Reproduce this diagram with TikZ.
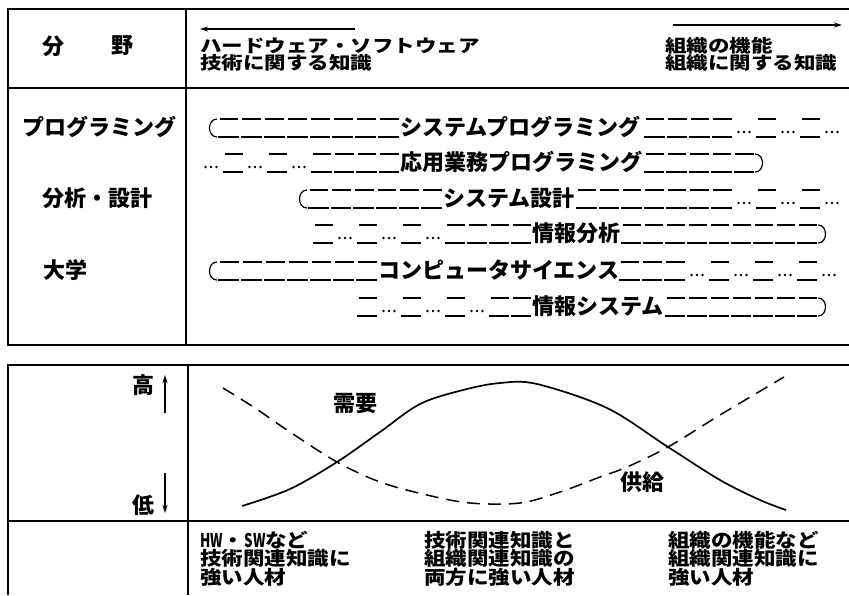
\documentclass[tikz,border=0pt]{standalone}
\usepackage{fontspec}
\newfontfamily\jp{Noto Sans CJK JP}
\usetikzlibrary{arrows.meta}
\newcommand\vsq[2]{\scalebox{1}[#1]{#2}}
\newcommand\bunits[4]{%
  \pgfmathsetmacro\uw{(#2-#1)/#3}%
  \foreach \k in {1,...,#3}{%
    \draw[bandln] ({#1+(\k-1)*\uw+2.5},{#4-9}) -- ({#1+\k*\uw-1.5},{#4-9});
    \draw[bandln] ({#1+(\k-1)*\uw+1},{#4+9}) -- ({#1+\k*\uw-1},{#4+9});
  }}
\newcommand\bdots[2]{%
  \foreach \d in {-5.5,0,5.5}{\fill ({#1+11+\d},{#2+4}) circle[radius=1.35pt];}}
\newcommand\bopen[2]{%
  \draw[bandln] ({#1+9},{#2-9}) .. controls ({#1-1},{#2-9}) and ({#1-1},{#2+9}) .. ({#1+9},{#2+9});}
\newcommand\bclose[2]{%
  \draw[bandln] ({#1},{#2-9}) .. controls ({#1+10},{#2-9}) and ({#1+10},{#2+9}) .. ({#1},{#2+9});}
\begin{document}
\begin{tikzpicture}[x=1pt,y=-1pt,
  tbl/.style={line width=2pt},
  jtxt/.style={font=\jp\bfseries\fontsize{22}{22}\selectfont, inner sep=0pt},
  htxt/.style={font=\jp\bfseries\fontsize{21.5}{21.5}\selectfont, inner sep=0pt, anchor=base west},
  bandln/.style={line width=1.2pt},
  arr/.style={line width=1.3pt, -{Stealth[length=8pt,width=5pt]}},
  demand/.style={line width=1.7pt},
  supply/.style={line width=1.5pt, dash pattern=on 13pt off 8pt},
]
\useasboundingbox (0,0) rectangle (849,595);
\fill[white] (0,0) rectangle (849,595);
% ---------- top table ----------
\draw[tbl] (849,9) -- (8,9) -- (8,345) -- (849,345);
\draw[tbl] (8,88) -- (849,88);
\draw[tbl] (186,9) -- (186,345);
% header
\node[jtxt] (bun) at (53,46) {分};
\node[jtxt] (ya) at (122,46) {野};
\coordinate (la1) at (355,29); \coordinate (la2) at (200,29);
\draw[arr] (la1) -- (la2);
\node[htxt] (h1) at (200,52) {\vsq{0.82}{ハードウェア・ソフトウェア}};
\node[htxt] (h2) at (200,69) {\vsq{0.82}{技術に関する知識}};
\coordinate (ra1) at (673,25); \coordinate (ra2) at (842,25);
\draw[arr] (ra1) -- (ra2);
\node[htxt] (h3) at (665,52) {\vsq{0.82}{組織の機能}};
\node[htxt] (h4) at (665,69) {\vsq{0.82}{組織に関する知識}};
% left labels
\node[jtxt, anchor=base west] (lp) at (22,135.5) {プログラミング};
\node[jtxt, anchor=base] (lb) at (97,206.5) {分析・設計};
\node[jtxt, anchor=base west] (ld) at (43,278) {大学};
% row 1
\bopen{208}{128}
\bunits{217}{400}{8}{128}
\node[jtxt, anchor=base west] (r1) at (400,135.5) {システムプログラミング};
\bunits{643}{733}{4}{128}
\bdots{733}{128}
\bunits{755}{777}{1}{128}
\bdots{777}{128}
\bunits{799}{821}{1}{128}
\bdots{821}{128}
% row 2
\bdots{200}{163}
\bunits{222}{244}{1}{163}
\bdots{244}{163}
\bunits{266}{288}{1}{163}
\bdots{288}{163}
\bunits{310}{400}{4}{163}
\node[jtxt, anchor=base west] (r2) at (400,170.5) {応用業務プログラミング};
\bunits{643}{755}{5}{163}
\bclose{755}{163}
% row 3
\bopen{298}{199}
\bunits{307}{443}{6}{199}
\node[jtxt, anchor=base west] (r3) at (443,206.5) {システム設計};
\bunits{575}{733}{7}{199}
\bdots{733}{199}
\bunits{755}{777}{1}{199}
\bdots{777}{199}
\bunits{799}{821}{1}{199}
\bdots{821}{199}
% row 4
\bunits{312}{334}{1}{234}
\bdots{334}{234}
\bunits{356}{378}{1}{234}
\bdots{378}{234}
\bunits{400}{422}{1}{234}
\bdots{422}{234}
\bunits{444}{532}{4}{234}
\node[jtxt, anchor=base west] (r4) at (532,241.5) {情報分析};
\bunits{620}{818}{9}{234}
\bclose{818}{234}
% row 5
\bopen{208}{271}
\bunits{217}{378}{7}{271}
\node[jtxt, anchor=base west] (r5) at (378,278.5) {コンピュータサイエンス};
\bunits{618}{686}{3}{271}
\bdots{686}{271}
\bunits{708}{730}{1}{271}
\bdots{730}{271}
\bunits{752}{774}{1}{271}
\bdots{774}{271}
\bunits{796}{818}{1}{271}
\bdots{818}{271}
% row 6
\bunits{356}{378}{1}{307}
\bdots{378}{307}
\bunits{400}{422}{1}{307}
\bdots{422}{307}
\bunits{444}{466}{1}{307}
\bdots{466}{307}
\bunits{488}{532}{2}{307}
\node[jtxt, anchor=base west] (r6) at (532,314.5) {情報システム};
\bunits{664}{818}{7}{307}
\bclose{818}{307}
% ---------- bottom table ----------
\draw[tbl] (849,365) -- (8,365) -- (8,595);
\draw[tbl] (188,365) -- (188,595);
\draw[tbl] (8,521) -- (849,521);
\node[jtxt] (hi) at (143,385) {高};
\coordinate (ua1) at (165,413); \coordinate (ua2) at (165,375);
\draw[arr] (ua1) -- (ua2);
\node[jtxt] (lo) at (143,505) {低};
\coordinate (da1) at (165,473); \coordinate (da2) at (165,513);
\draw[arr] (da1) -- (da2);
\node[jtxt] (juyo) at (355,404) {需要};
\node[jtxt] (kyokyu) at (642,482) {供給};
\draw[demand] plot[smooth, tension=0.55] coordinates {(242,506) (290,489) (337,462) (380,432) (420,404) (463,390) (500,383) (537,384) (607,408) (668,447) (720,480) (760,500) (786,510)};
\draw[supply] plot[smooth, tension=0.55] coordinates {(223,388) (255,408) (290,432) (337,462) (380,482) (427,495) (470,503) (520,503) (560,492) (600,477) (627,467) (668,447) (720,415) (784,377)};
% bottom labels
\node[htxt] (b11) at (200,547) {\vsq{0.88}{\scalebox{0.62}[1]{HW}・\scalebox{0.62}[1]{SW}など}};
\node[htxt] (b12) at (200,565) {\vsq{0.88}{技術関連知識に}};
\node[htxt] (b13) at (200,584) {\vsq{0.88}{強い人材}};
\node[htxt] (b21) at (424,547) {\vsq{0.88}{技術関連知識と}};
\node[htxt] (b22) at (424,565) {\vsq{0.88}{組織関連知識の}};
\node[htxt] (b23) at (424,584) {\vsq{0.88}{両方に強い人材}};
\node[htxt] (b31) at (668,547) {\vsq{0.88}{組織の機能など}};
\node[htxt] (b32) at (668,565) {\vsq{0.88}{組織関連知識に}};
\node[htxt] (b33) at (668,584) {\vsq{0.88}{強い人材}};
\end{tikzpicture}
\end{document}
